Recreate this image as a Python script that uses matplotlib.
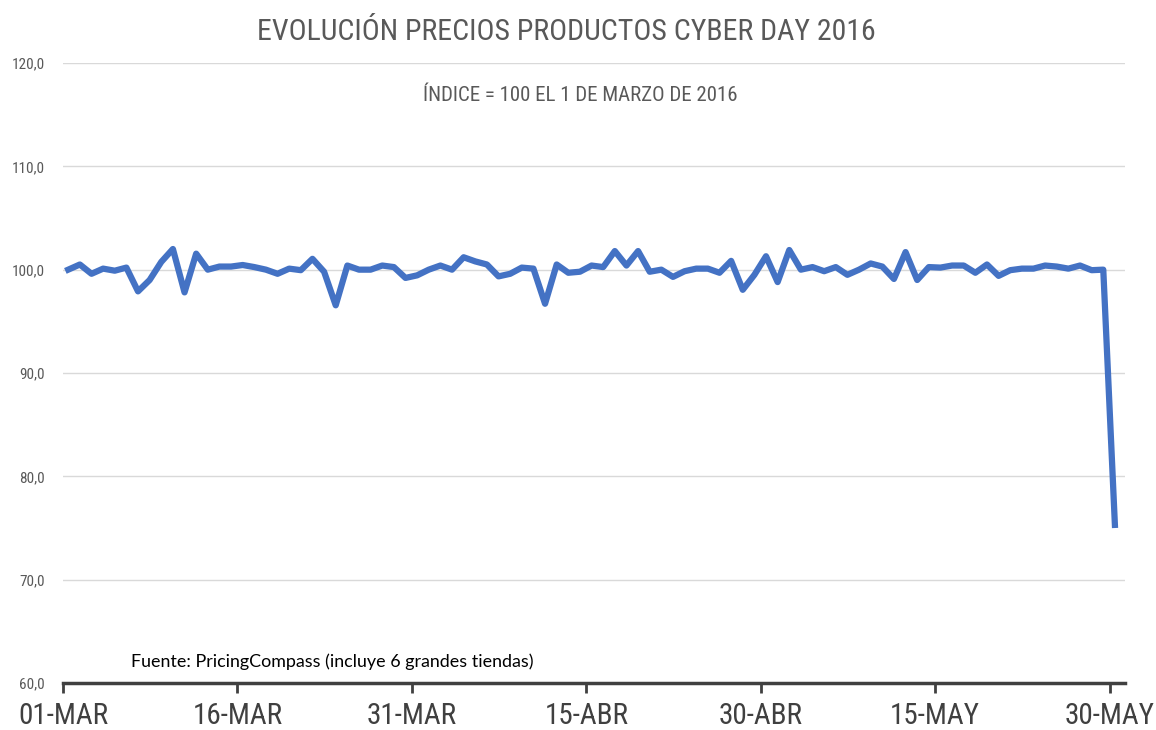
import matplotlib
matplotlib.use("Agg")
import matplotlib.pyplot as plt
from matplotlib import font_manager
import numpy as np

# indice de precios, 1 de marzo = 100 (un punto por dia hasta el 30 de mayo)
indice = [100.0, 100.5, 99.6, 100.1, 99.9, 100.2, 97.9, 99.0, 100.75, 102.0,
          97.8, 101.55, 100.0, 100.3, 100.3, 100.45, 100.25, 100.0, 99.6, 100.1,
          99.95, 101.05, 99.8, 96.55, 100.4, 100.0, 100.0, 100.4, 100.25, 99.2,
          99.45, 100.0, 100.4, 100.0, 101.2, 100.8, 100.5, 99.35, 99.6, 100.2,
          100.1, 96.7, 100.5, 99.7, 99.8, 100.4, 100.25, 101.8, 100.4, 101.8,
          99.8, 100.0, 99.3, 99.85, 100.1, 100.1, 99.7, 100.85, 98.05, 99.5,
          101.3, 98.8, 101.9, 100.0, 100.25, 99.85, 100.25, 99.5, 100.0, 100.6,
          100.3, 99.1, 101.7, 99.0, 100.25, 100.2, 100.4, 100.4, 99.7, 100.5,
          99.4, 99.95, 100.1, 100.1, 100.4, 100.3, 100.1, 100.4, 99.95, 100.0,
          75.3]
etiquetas_x = ["01-MAR", "16-MAR", "31-MAR", "15-ABR", "30-ABR", "15-MAY", "30-MAY"]
valores_y = [60, 70, 80, 90, 100, 110, 120]

# buscar una fuente estrecha, si no hay, DejaVu condensada
nombres = {f.name for f in font_manager.fontManager.ttflist}
estrecha = None
for n in ["Liberation Sans Narrow", "Roboto Condensed", "Open Sans Condensed", "DejaVu Sans"]:
    if n in nombres:
        estrecha = n
        break
condensada = dict(family=[estrecha, "DejaVu Sans"], stretch="condensed")
gris = "#595959"

fig = plt.figure(figsize=(11.56, 7.30), dpi=100)
ax = fig.add_axes([0.0545, 0.0644, 0.9185, 0.8493])

dias = np.arange(len(indice)) + 0.45  # puntos centrados en cada dia
ax.plot(dias, indice, color="#4472C4", linewidth=4.5, zorder=3)

ax.set_xlim(0, 91.3)
ax.set_ylim(60, 120)
ax.set_yticks(valores_y)
ax.set_yticklabels([f"{v},0" for v in valores_y], fontsize=11, color=gris, **condensada)
ax.set_xticks(np.arange(0, 91, 15))
ax.set_xticklabels(etiquetas_x, fontsize=21, color="#404040", **condensada)

for v in valores_y[1:]:
    ax.axhline(v, color="#d9d9d9", linewidth=1, zorder=1)

for s in ["top", "right", "left"]:
    ax.spines[s].set_visible(False)
ax.spines["bottom"].set_color("#404040")
ax.spines["bottom"].set_linewidth(2.5)
ax.tick_params(axis="x", direction="out", length=7, width=2, color="#404040", pad=7)
ax.tick_params(axis="y", length=0, pad=13)

fig.text(0.49, 0.956, "EVOLUCIÓN PRECIOS PRODUCTOS CYBER DAY 2016", ha="center", va="center",
         fontsize=21.5, color=gris, **condensada)
fig.text(0.502, 0.869, "ÍNDICE = 100 EL 1 DE MARZO DE 2016", ha="center", va="center",
         fontsize=15, color=gris, **condensada)
fig.text(0.113, 0.093, "Fuente: PricingCompass (incluye 6 grandes tiendas)", ha="left", va="center",
         family="Lato", fontsize=12.9, color="black")

fig.savefig("out.png", dpi=100)
